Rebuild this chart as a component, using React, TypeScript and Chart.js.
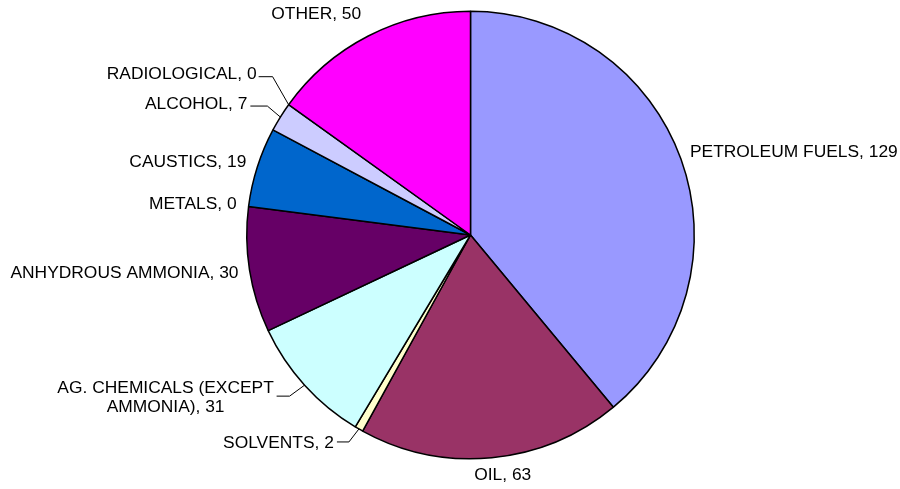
import React, { useEffect, useRef } from "react";
import { Chart, registerables } from "chart.js";

Chart.register(...registerables);

const categories = [
  "PETROLEUM FUELS",
  "OIL",
  "SOLVENTS",
  "AG. CHEMICALS (EXCEPT AMMONIA)",
  "ANHYDROUS AMMONIA",
  "METALS",
  "CAUSTICS",
  "ALCOHOL",
  "RADIOLOGICAL",
  "OTHER",
];

const incidents = [129, 63, 2, 31, 30, 0, 19, 7, 0, 50];

const sliceColors = [
  "#9999FF",
  "#993366",
  "#FFFFCC",
  "#CCFFFF",
  "#660066",
  "#3366FF",
  "#0066CC",
  "#CCCCFF",
  "#FFFF00",
  "#FF00FF",
];

// Label text lines for each slice (label text is built from the category and its value)
const labelLines: string[][] = categories.map((c, i) =>
  i === 3 ? ["AG. CHEMICALS (EXCEPT", `AMMONIA), ${incidents[i]}`] : [`${c}, ${incidents[i]}`]
);

// Label placement relative to the slice's outer mid point:
// align, dx, dy for the text, and optional leader elbow (ex, ey) + leader end (lx)
type Place = { align: CanvasTextAlign; dx: number; dy: number; leader?: { ex: number; ey: number; lx: number } };
const placements: Place[] = [
  { align: "left", dx: 9, dy: -7 },
  { align: "center", dx: 11, dy: 17 },
  { align: "right", dx: -25, dy: 14, leader: { ex: -10, ey: 13, lx: -22 } },
  { align: "center", dx: -139, dy: 3, leader: { ex: -15, ey: 11, lx: -28 } },
  { align: "right", dx: -11, dy: 3 },
  { align: "right", dx: -12, dy: -2 },
  { align: "right", dx: -11, dy: -5 },
  { align: "right", dx: -33, dy: -13, leader: { ex: -13, ey: -11, lx: -30 } },
  { align: "right", dx: -32, dy: -30, leader: { ex: -16, ey: -28, lx: -30 } },
  { align: "center", dx: -52, dy: -22 },
];

const FONT = '17.4px "Liberation Sans", Arial, sans-serif';
const LINE_H = 19;

const labelPlugin = {
  id: "sliceLabels",
  afterDraw(chart: any) {
    const meta = chart.getDatasetMeta(0);
    const ctx: CanvasRenderingContext2D = chart.ctx;
    ctx.save();
    ctx.font = FONT;
    ctx.fillStyle = "#000";
    ctx.textBaseline = "middle";
    meta.data.forEach((arc: any, i: number) => {
      const { x, y, startAngle, endAngle, outerRadius } = arc.getProps(
        ["x", "y", "startAngle", "endAngle", "outerRadius"],
        true
      );
      const mid = (startAngle + endAngle) / 2;
      const px = x + Math.cos(mid) * outerRadius;
      const py = y + Math.sin(mid) * outerRadius;
      const p = placements[i];
      const lines = labelLines[i];
      if (p.leader) {
        ctx.strokeStyle = "#000";
        ctx.lineWidth = 1;
        ctx.beginPath();
        ctx.moveTo(px, py);
        ctx.lineTo(px + p.leader.ex, py + p.leader.ey);
        ctx.lineTo(px + p.leader.lx, py + p.leader.ey);
        ctx.stroke();
      }
      ctx.textAlign = p.align;
      lines.forEach((ln, k) => {
        ctx.fillText(ln, px + p.dx, py + p.dy + k * LINE_H);
      });
    });
    ctx.restore();
  },
};

export default function App() {
  const ref = useRef<HTMLCanvasElement | null>(null);
  useEffect(() => {
    if (!ref.current) return;
    const chart = new Chart(ref.current, {
      type: "pie",
      data: {
        labels: categories,
        datasets: [
          {
            data: incidents,
            backgroundColor: sliceColors,
            borderColor: "#000",
            borderWidth: 1.5,
          },
        ],
      },
      options: {
        animation: false,
        responsive: false,
        maintainAspectRatio: false,
        layout: { padding: { top: 10, bottom: 29, left: 246, right: 205 } },
        plugins: {
          legend: { display: false },
          tooltip: { enabled: false },
        },
      },
      plugins: [labelPlugin],
    });
    return () => chart.destroy();
  }, []);
  return (
    <div style={{ position: "fixed", left: 0, top: 0, width: 900, height: 489, background: "#fff" }}>
      <canvas ref={ref} width={900} height={489} />
    </div>
  );
}
